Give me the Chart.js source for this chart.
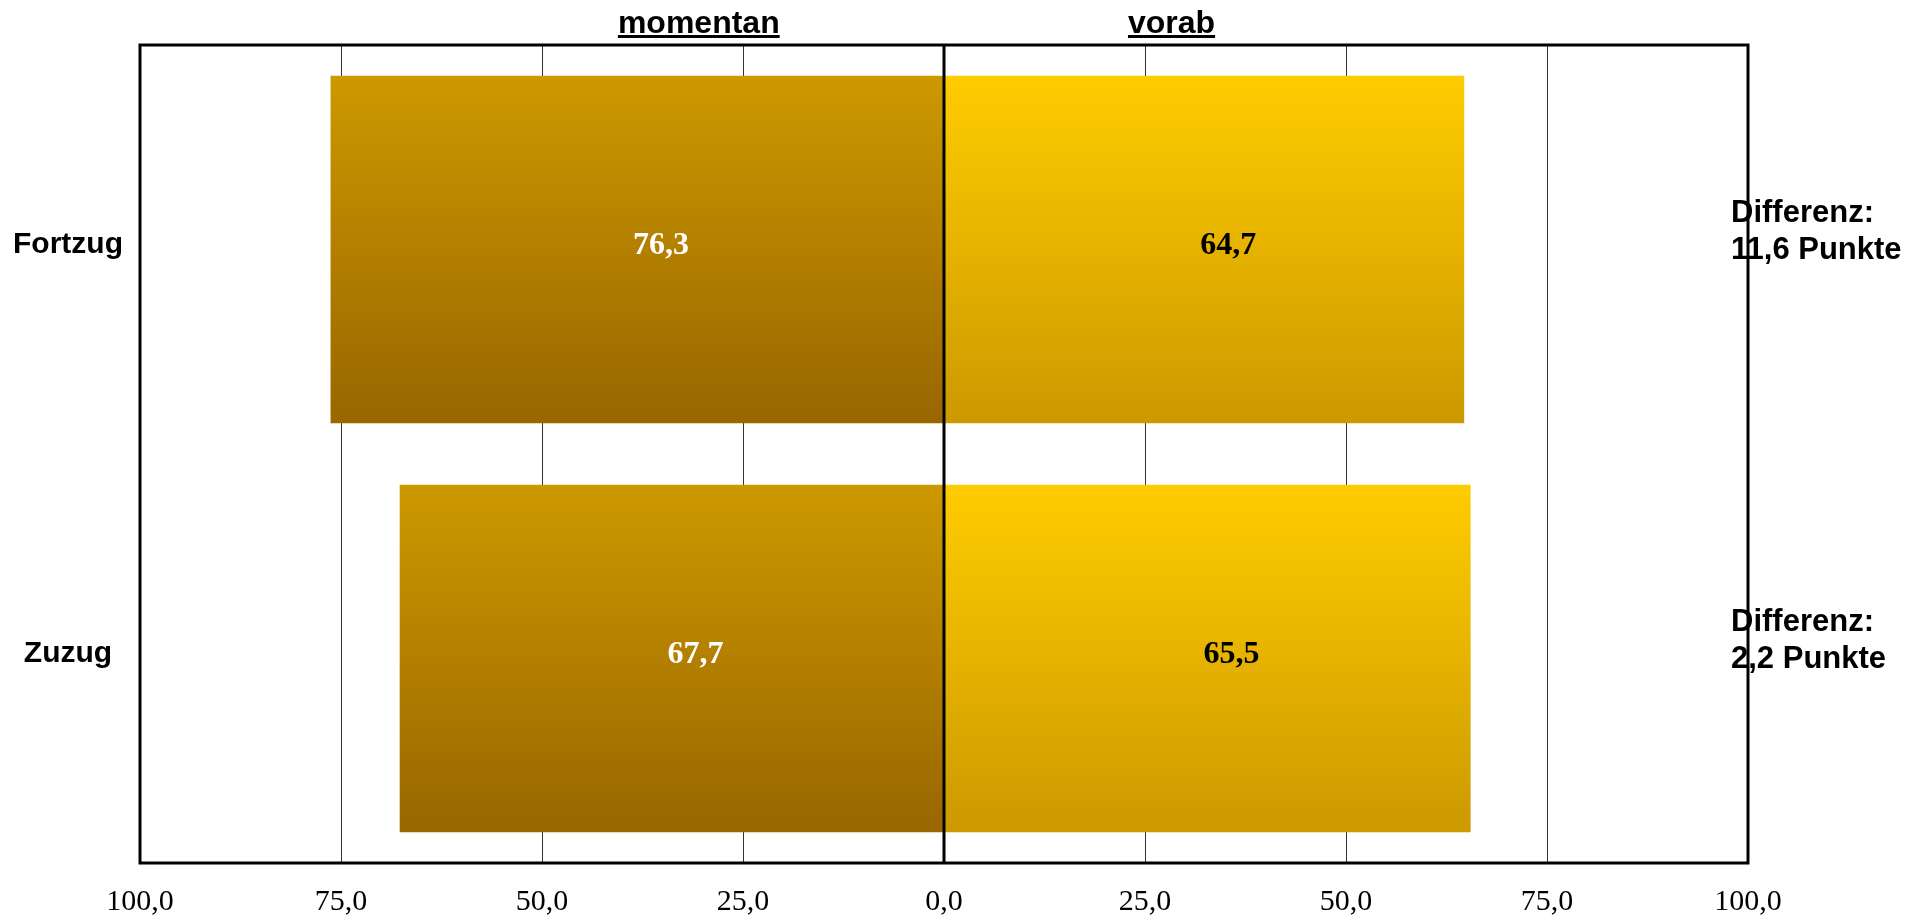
<!DOCTYPE html>
<html lang="de">
<head>
<meta charset="utf-8">
<title>Fortzug / Zuzug</title>
<script src="https://cdn.jsdelivr.net/npm/chart.js@4.4.1/dist/chart.umd.min.js"></script>
<style>
  html, body { margin: 0; padding: 0; background: #fff; }
  #wrap { width: 1906px; height: 920px; position: relative; }
</style>
</head>
<body>
<div id="wrap"><canvas id="chart"></canvas></div>
<script>
const categories = ["Fortzug", "Zuzug"];
const momentan = [76.3, 67.7];
const vorab = [64.7, 65.5];
const xTicks = [-100, -75, -50, -25, 0, 25, 50, 75, 100];

const BAR_PCT = 0.85;
const fmt = (v) => Math.abs(v).toFixed(1).replace(".", ",");

// vertical gradient spanning one bar
function barGradient(top, bottom) {
  return (ctx) => {
    const chart = ctx.chart;
    const area = chart.chartArea;
    const y = chart.scales.y;
    if (!area || !y || ctx.dataIndex === undefined) return bottom;
    const c = y.getPixelForValue(ctx.dataIndex);
    const h = (area.bottom - area.top) / categories.length * BAR_PCT;
    const g = chart.ctx.createLinearGradient(0, c - h / 2, 0, c + h / 2);
    g.addColorStop(0, top);
    g.addColorStop(1, bottom);
    return g;
  };
}

const overlay = {
  id: "overlay",
  afterDatasetsDraw(chart) {
    const { ctx, chartArea: a, scales: { x, y } } = chart;
    ctx.save();

    // centre line and frame on top of the bars
    ctx.strokeStyle = "#000";
    ctx.lineWidth = 3;
    const zero = x.getPixelForValue(0);
    ctx.beginPath();
    ctx.moveTo(zero, a.top);
    ctx.lineTo(zero, a.bottom);
    ctx.stroke();
    ctx.strokeRect(a.left, a.top, a.right - a.left, a.bottom - a.top);

    // values inside the bars
    ctx.font = "bold 32px 'Liberation Serif', 'Times New Roman', serif";
    ctx.textAlign = "center";
    ctx.textBaseline = "middle";
    chart.data.datasets.forEach((ds, di) => {
      chart.getDatasetMeta(di).data.forEach((bar, i) => {
        ctx.fillStyle = di === 0 ? "#fff" : "#000";
        ctx.fillText(fmt(ds.data[i]), (bar.x + bar.base) / 2 + 24, bar.y - 4);
      });
    });

    // difference notes at the right
    ctx.font = "bold 31px 'Liberation Sans', Arial, sans-serif";
    ctx.textAlign = "left";
    ctx.fillStyle = "#000";
    categories.forEach((c, i) => {
      const cy = y.getPixelForValue(i);
      const diff = (momentan[i] - vorab[i]).toFixed(1).replace(".", ",");
      ctx.fillText("Differenz:", a.right - 17, cy - 36);
      ctx.fillText(diff + " Punkte", a.right - 17, cy + 1);
    });

    // underlined headings over both halves
    ctx.font = "bold 32px 'Liberation Sans', Arial, sans-serif";
    ctx.textAlign = "center";
    ctx.textBaseline = "alphabetic";
    [["momentan", -30.5], ["vorab", 28.3]].forEach(([t, v]) => {
      const cx = x.getPixelForValue(v);
      const w = ctx.measureText(t).width;
      ctx.fillText(t, cx, 33);
      ctx.fillRect(cx - w / 2, 35, w, 3);
    });

    ctx.restore();
  }
};

new Chart(document.getElementById("chart"), {
  type: "bar",
  data: {
    labels: categories,
    datasets: [
      { label: "momentan", data: momentan.map((v) => -v), backgroundColor: barGradient("#cc9900", "#996600") },
      { label: "vorab", data: vorab, backgroundColor: barGradient("#ffcc00", "#cc9900") }
    ]
  },
  options: {
    indexAxis: "y",
    responsive: true,
    maintainAspectRatio: false,
    animation: false,
    datasets: { bar: { barPercentage: BAR_PCT, categoryPercentage: 1, borderWidth: 0 } },
    layout: { padding: { top: 45, right: 158, left: 0, bottom: 0 } },
    plugins: { legend: { display: false }, tooltip: { enabled: false } },
    scales: {
      x: {
        type: "linear",
        stacked: true,
        min: -100,
        max: 100,
        afterBuildTicks: (scale) => { scale.ticks = xTicks.map((v) => ({ value: v })); },
        afterFit: (scale) => { scale.height = 57; },
        border: { display: false },
        grid: { color: "#333", lineWidth: 1, drawTicks: false },
        ticks: {
          padding: 21,
          color: "#000",
          font: { family: "'Liberation Serif', 'Times New Roman', serif", size: 30 },
          callback: (v) => fmt(v),
          maxRotation: 0,
          autoSkip: false
        }
      },
      y: {
        stacked: true,
        afterFit: (scale) => { scale.width = 140; },
        border: { display: false },
        grid: { display: false },
        ticks: {
          padding: 9,
          labelOffset: -5,
          crossAlign: "center",
          color: "#000",
          font: { family: "'Liberation Sans', Arial, sans-serif", size: 30, weight: "bold" }
        }
      }
    }
  },
  plugins: [overlay]
});
</script>
</body>
</html>
